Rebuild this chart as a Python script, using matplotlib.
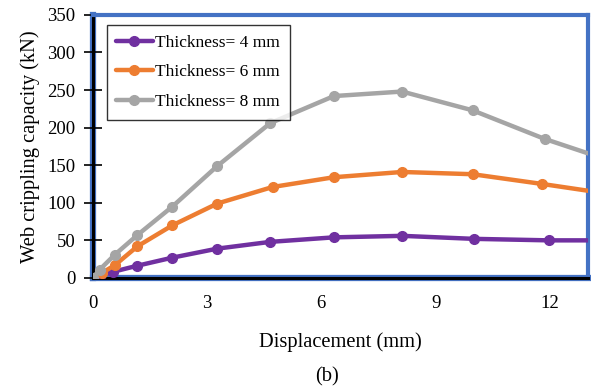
import matplotlib.pyplot as plt

plt.rcParams['font.family'] = ['Liberation Serif', 'DejaVu Serif']

# Displacement (mm) and web crippling capacity (kN) for each web thickness
disp_4mm = [0, 0.18, 0.52, 1.15, 2.09, 3.27, 4.66, 6.33, 8.12, 10.0, 11.97, 13.4]
load_4mm = [0, 3, 8, 16, 27, 39, 48, 54, 56, 52, 50, 50]

disp_6mm = [0, 0.25, 0.58, 1.17, 2.09, 3.27, 4.72, 6.33, 8.12, 9.97, 11.8, 13.4]
load_6mm = [0, 7, 17, 42, 70, 99, 121, 134, 141, 138, 125, 113]

disp_8mm = [0, 0.18, 0.58, 1.17, 2.09, 3.27, 4.66, 6.33, 8.12, 9.97, 11.86, 13.4]
load_8mm = [0, 11, 31, 57, 95, 149, 206, 242, 248, 223, 185, 159]

series_labels = ['Thickness= 4 mm', 'Thickness= 6 mm', 'Thickness= 8 mm']
series_colors = ['#7030A0', '#ED7D31', '#A5A5A5']

x_ticks = [0, 3, 6, 9, 12]
y_ticks = [0, 50, 100, 150, 200, 250, 300, 350]

fig = plt.figure(figsize=(5.91, 3.92), dpi=100)
ax = fig.add_axes([0.157, 0.291, 0.838, 0.671])

for xs, ys, lab, col in zip([disp_4mm, disp_6mm, disp_8mm],
                            [load_4mm, load_6mm, load_8mm],
                            series_labels, series_colors):
    ax.plot(xs, ys, color=col, lw=3.2, marker='o', ms=7,
            label=lab, solid_capstyle='round', clip_on=True, zorder=3)

ax.set_xlim(0, 13)
ax.set_ylim(0, 350)
ax.set_xticks(x_ticks)
ax.set_yticks(y_ticks)
ax.tick_params(axis='x', length=0, labelsize=13.5, pad=12)
ax.tick_params(axis='y', direction='inout', length=13, width=1.2, labelsize=13.5, pad=6)

# blue plot-area border with black left/bottom axis lines
for side in ['top', 'right']:
    ax.spines[side].set_color('#4472C4')
    ax.spines[side].set_linewidth(3)
for side in ['left', 'bottom']:
    ax.spines[side].set_color('black')
    ax.spines[side].set_linewidth(2.2)
ax.plot([0, 0], [0, 350], color='#4472C4', lw=4.5, clip_on=False, zorder=1)
ax.plot([0, 13], [0, 0], color='#4472C4', lw=4.5, clip_on=False, zorder=1)

ax.set_xlabel('Displacement (mm)', fontsize=14.8, labelpad=15)
ax.set_ylabel('Web crippling capacity (kN)', fontsize=14.8, labelpad=5)

leg = ax.legend(loc='upper left', bbox_to_anchor=(0.028, 0.962), fontsize=12.5,
                frameon=True, fancybox=False, edgecolor='black',
                handlelength=2.1, handletextpad=0.15, borderpad=0.55,
                borderaxespad=0, labelspacing=0.78)
leg.get_frame().set_linewidth(1.0)

fig.text(0.553, 0.038, '(b)', ha='center', va='center', fontsize=14.8)

fig.savefig('out.png', dpi=100)
